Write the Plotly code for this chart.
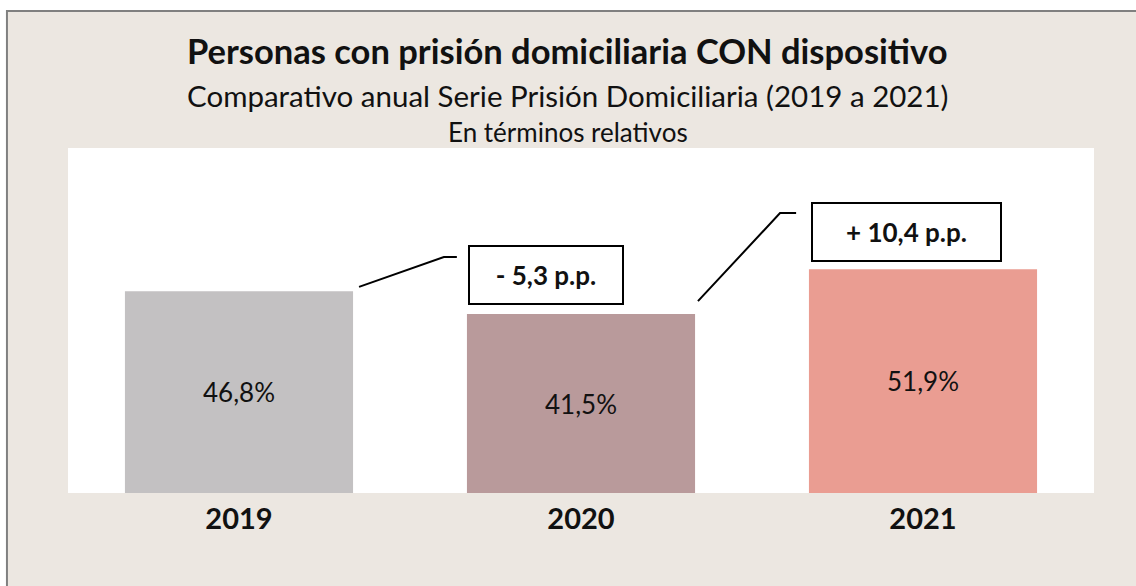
import plotly.graph_objects as go

# datos del gráfico
anios = ["2019", "2020", "2021"]
porcentajes = [46.8, 41.5, 51.9]
colores = ["#c3c1c2", "#b99a9b", "#ea9d92"]

titulo = "Personas con prisión domiciliaria CON dispositivo"
subtitulo = "Comparativo anual Serie Prisión Domiciliaria (2019 a 2021)"
subtitulo2 = "En términos relativos"

FUENTE = "Lato"
FONDO = "#ece7e1"


def fmt_pct(v):
    return f"{v:.1f}%".replace(".", ",")


def fmt_pp(d):
    signo = "+" if d > 0 else "-"
    return f"{signo} " + f"{abs(d):.1f}".replace(".", ",") + " p.p."


fig = go.Figure(go.Bar(
    x=anios,
    y=porcentajes,
    marker_color=colores,
    marker_line_width=0,
    text=[fmt_pct(v) for v in porcentajes],
    textposition="inside",
    insidetextanchor="middle",
    textfont=dict(family=FUENTE, size=26, color="#111111"),
    hoverinfo="skip",
))

# variaciones interanuales
difs = [porcentajes[i + 1] - porcentajes[i] for i in range(len(porcentajes) - 1)]
cajas = [(0.898, 50.6), (1.952, 60.6)]
anchos = [150, 185]
conectores = [
    [(0.351, 47.8), (0.599, 54.7), (0.637, 54.7)],
    [(1.342, 44.5), (1.582, 64.9), (1.629, 64.9)],
]

anotaciones = [
    dict(text=f"<b>{titulo}</b>", x=0.4873, y=1.282, font=dict(size=34.5)),
    dict(text=subtitulo, x=0.4873, y=1.151, font=dict(size=29.5)),
    dict(text=subtitulo2, x=0.4873, y=1.046, font=dict(size=26)),
]
for a in anotaciones:
    a.update(xref="paper", yref="paper", showarrow=False,
             xanchor="center", yanchor="middle")
    a["font"].update(family=FUENTE, color="#111111")

for d, (cx, cy), w in zip(difs, cajas, anchos):
    anotaciones.append(dict(
        text=f"<b>{fmt_pp(d)}</b>", x=cx, y=cy, xref="x", yref="y",
        showarrow=False, width=w, height=54, bgcolor="white",
        bordercolor="black", borderwidth=2, borderpad=1,
        font=dict(family=FUENTE, size=26, color="#111111"),
    ))

# marco beige con borde gris solo a la izquierda y arriba
formas = [
    dict(type="rect", xref="paper", yref="paper",
         x0=-0.0595, x1=1.1, y0=-0.4, y1=1.397,
         fillcolor=FONDO, line=dict(width=0), layer="below"),
    dict(type="path", xref="paper", yref="paper",
         path="M -0.0595,-0.4 L -0.0595,1.397 L 1.1,1.397",
         line=dict(color="#808080", width=2), layer="below"),
    dict(type="rect", xref="paper", yref="paper",
         x0=0, x1=1, y0=0, y1=1,
         fillcolor="white", line=dict(width=0), layer="below"),
]
for pts in conectores:
    path = "M " + " L ".join(f"{x},{y}" for x, y in pts)
    formas.append(dict(type="path", xref="x", yref="y", path=path,
                       line=dict(color="black", width=2)))

fig.update_layout(
    width=1136, height=586,
    margin=dict(l=68, r=42, t=148, b=93),
    paper_bgcolor="white",
    plot_bgcolor="white",
    bargap=0.333,
    showlegend=False,
    annotations=anotaciones,
    shapes=formas,
    xaxis=dict(showgrid=False, zeroline=False, showline=False,
               tickfont=dict(family=FUENTE, size=29, color="#111111"),
               ticklabelstandoff=6),
    yaxis=dict(range=[0, 80], visible=False),
)
fig.update_xaxes(tickprefix="<b>", ticksuffix="</b>")

# la figura ocupa la ventana entera, sin márgenes ni barras de desplazamiento
fig.write_html(
    "out.html",
    config={"displayModeBar": False},
    post_script="document.body.style.margin = '0'; document.body.style.overflow = 'hidden';",
)
